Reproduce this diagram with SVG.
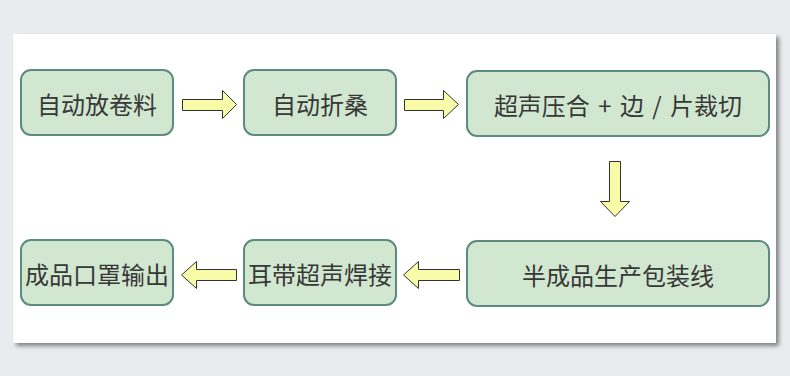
<svg xmlns="http://www.w3.org/2000/svg" width="790" height="376" viewBox="0 0 790 376">
  <defs>
    <filter id="sh" x="-5%" y="-5%" width="110%" height="115%">
      <feGaussianBlur in="SourceAlpha" stdDeviation="2"/>
      <feOffset dx="3" dy="3" result="b"/>
      <feComponentTransfer><feFuncA type="linear" slope="0.45"/></feComponentTransfer>
      <feMerge><feMergeNode/><feMergeNode in="SourceGraphic"/></feMerge>
    </filter>
    <style>
      .node rect { fill: #D1E7CF; stroke: #5E8B7F; stroke-width: 2; }
      .node text { font-family: "Noto Sans CJK SC", "Noto Sans", sans-serif; font-size: 24px; fill: #383838; text-anchor: middle; dominant-baseline: central; }
      .arr { fill: #F8FCA8; stroke: #333333; stroke-width: 1; stroke-linejoin: miter; }
    </style>
  </defs>
  <rect x="0" y="0" width="790" height="376" fill="#EAEBEF"/>
  <rect x="13" y="34" width="763" height="309" fill="#FFFFFF" filter="url(#sh)"/>

  <g id="n1" class="node">
    <rect x="21" y="70" width="152" height="65" rx="10"/>
    <text x="97" y="103">自动放卷料</text>
  </g>
  <g id="n2" class="node">
    <rect x="244" y="70" width="152" height="65" rx="10"/>
    <text x="320" y="103">自动折桑</text>
  </g>
  <g id="n3" class="node">
    <rect x="467" y="71" width="302" height="65" rx="10"/>
    <text x="618" y="104" word-spacing="3">超声压合 + 边 / 片裁切</text>
  </g>
  <g id="n4" class="node">
    <rect x="467" y="241" width="302" height="65" rx="10"/>
    <text x="618" y="274">半成品生产包装线</text>
  </g>
  <g id="n5" class="node">
    <rect x="244" y="240" width="152" height="65" rx="10"/>
    <text x="320" y="273">耳带超声焊接</text>
  </g>
  <g id="n6" class="node">
    <rect x="21" y="240" width="152" height="65" rx="10"/>
    <text x="97" y="273">成品口罩输出</text>
  </g>

  <g id="connectors">
    <polygon class="arr" points="182.5,99.5 222.5,99.5 222.5,90.5 236.5,104.5 222.5,118.5 222.5,110.5 182.5,110.5"/>
    <polygon class="arr" points="404.5,99.5 443.5,99.5 443.5,90.5 458.5,104.5 443.5,118.5 443.5,110.5 404.5,110.5"/>
    <polygon class="arr" points="609.5,161.5 620.5,161.5 620.5,201.5 629.5,201.5 615,216.5 600.5,201.5 609.5,201.5"/>
    <polygon class="arr" points="459.5,269.5 418.5,269.5 418.5,261.5 403.5,275 418.5,288.5 418.5,280.5 459.5,280.5"/>
    <polygon class="arr" points="236.5,269.5 196.5,269.5 196.5,261.5 181.5,275 196.5,288.5 196.5,280.5 236.5,280.5"/>
  </g>
</svg>
